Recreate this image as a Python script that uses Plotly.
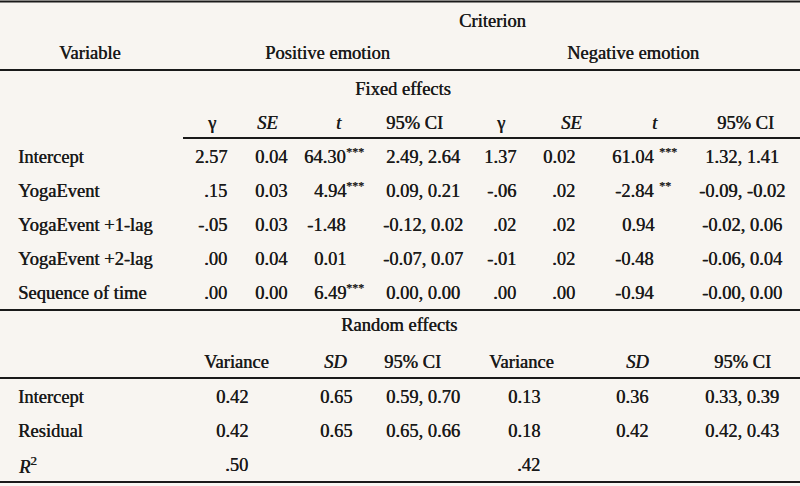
import plotly.graph_objects as go

# ---------------- data ----------------
criterion = "Criterion"
groups = ["Positive emotion", "Negative emotion"]
fixed_title = "Fixed effects"
random_title = "Random effects"
fixed_heads = ["γ", "<i>SE</i>", "<i>t</i>", "95% CI"]
random_heads = ["Variance", "<i>SD</i>", "95% CI"]

fixed_vars = ["Intercept", "YogaEvent", "YogaEvent +1-lag", "YogaEvent +2-lag", "Sequence of time"]
pos_gamma = ["2.57", ".15", "-.05", ".00", ".00"]
pos_se = ["0.04", "0.03", "0.03", "0.04", "0.00"]
pos_t = ["64.30", "4.94", "-1.48", "0.01", "6.49"]
pos_sig = ["***", "***", "", "", "***"]
pos_ci = ["2.49, 2.64", "0.09, 0.21", "-0.12, 0.02", "-0.07, 0.07", "0.00, 0.00"]
neg_gamma = ["1.37", "-.06", ".02", "-.01", ".00"]
neg_se = ["0.02", ".02", ".02", ".02", ".00"]
neg_t = ["61.04", "-2.84", "0.94", "-0.48", "-0.94"]
neg_sig = ["***", "**", "", "", ""]
neg_ci = ["1.32, 1.41", "-0.09, -0.02", "-0.02, 0.06", "-0.06, 0.04", "-0.00, 0.00"]

random_vars = ["Intercept", "Residual", "<i>R</i><sup>2</sup>"]
pos_var = ["0.42", "0.42", ".50"]
pos_sd = ["0.65", "0.65", ""]
pos_rci = ["0.59, 0.70", "0.65, 0.66", ""]
neg_var = ["0.13", "0.18", ".42"]
neg_sd = ["0.36", "0.42", ""]
neg_rci = ["0.33, 0.39", "0.42, 0.43", ""]

# ---------------- layout constants ----------------
W, H = 800, 486
BG = "#f8f5f1"
INK = "#1a1a1a"
FONT = "Liberation Serif"
FS = 18.5

fig = go.Figure()
ann = []


def txt(x, y, s, anchor="center", size=FS, yshift=0):
    if not s:
        return
    ann.append(dict(x=x, y=y, text=s, xref="x", yref="y", showarrow=False,
                    xanchor=anchor, yanchor="middle", yshift=yshift,
                    borderpad=0, borderwidth=0,
                    font=dict(family=FONT, size=size, color=INK,
                              shadow="0.45px 0px 0px %s" % INK)))


# header
txt(492, 21, criterion)
txt(90, 53, "Variable")
txt(327, 53, groups[0])
txt(633, 53, groups[1])
txt(403, 89, fixed_title)

fh_pos = [211, 267, 339, 414]
fh_neg = [500, 571, 655, 745]
for i, h in enumerate(fixed_heads):
    txt(fh_pos[i], 123, h)
    txt(fh_neg[i], 123, h)

# fixed rows
row_y = [157 + 34 * i for i in range(len(fixed_vars))]
for i, y in enumerate(row_y):
    txt(18, y, fixed_vars[i], "left")
    txt(227, y, pos_gamma[i], "right")
    txt(287, y, pos_se[i], "right")
    txt(346, y, pos_t[i], "right")
    txt(346, y, pos_sig[i], "left", size=12, yshift=5)
    txt(423, y, pos_ci[i])
    txt(516, y, neg_gamma[i], "right")
    txt(575, y, neg_se[i], "right")
    txt(654, y, neg_t[i], "right")
    txt(659, y, neg_sig[i], "left", size=12, yshift=5)
    txt(742, y, neg_ci[i])

# random section
txt(399, 325, random_title)
rh_pos = [236, 335, 412]
rh_neg = [521, 637, 742]
for i, h in enumerate(random_heads):
    txt(rh_pos[i], 362, h)
    txt(rh_neg[i], 362, h)

ry = [397, 431, 465]
for i, y in enumerate(ry):
    txt(18, y, random_vars[i], "left")
    txt(248, y, pos_var[i], "right")
    txt(352, y, pos_sd[i], "right")
    txt(423, y, pos_rci[i])
    txt(540, y, neg_var[i], "right")
    txt(648, y, neg_sd[i], "right")
    txt(742, y, neg_rci[i])

# rules
rules = [(0, W, 1.5), (0, W, 70), (183, W, 138), (0, W, 310), (0, W, 378), (0, W, 482)]
shapes = [dict(type="line", xref="x", yref="y", x0=a, x1=b, y0=y, y1=y,
               line=dict(color=INK, width=2)) for a, b, y in rules]

fig.update_layout(
    width=W, height=H, margin=dict(l=0, r=0, t=0, b=0),
    paper_bgcolor=BG, plot_bgcolor=BG,
    xaxis=dict(range=[0, W], visible=False, fixedrange=True),
    yaxis=dict(range=[H, 0], visible=False, fixedrange=True),
    annotations=ann, shapes=shapes, showlegend=False,
)

fig.write_html(
    "out.html",
    config={"displayModeBar": False},
    post_script="document.body.style.margin='0';document.body.style.background='%s';" % BG,
)
